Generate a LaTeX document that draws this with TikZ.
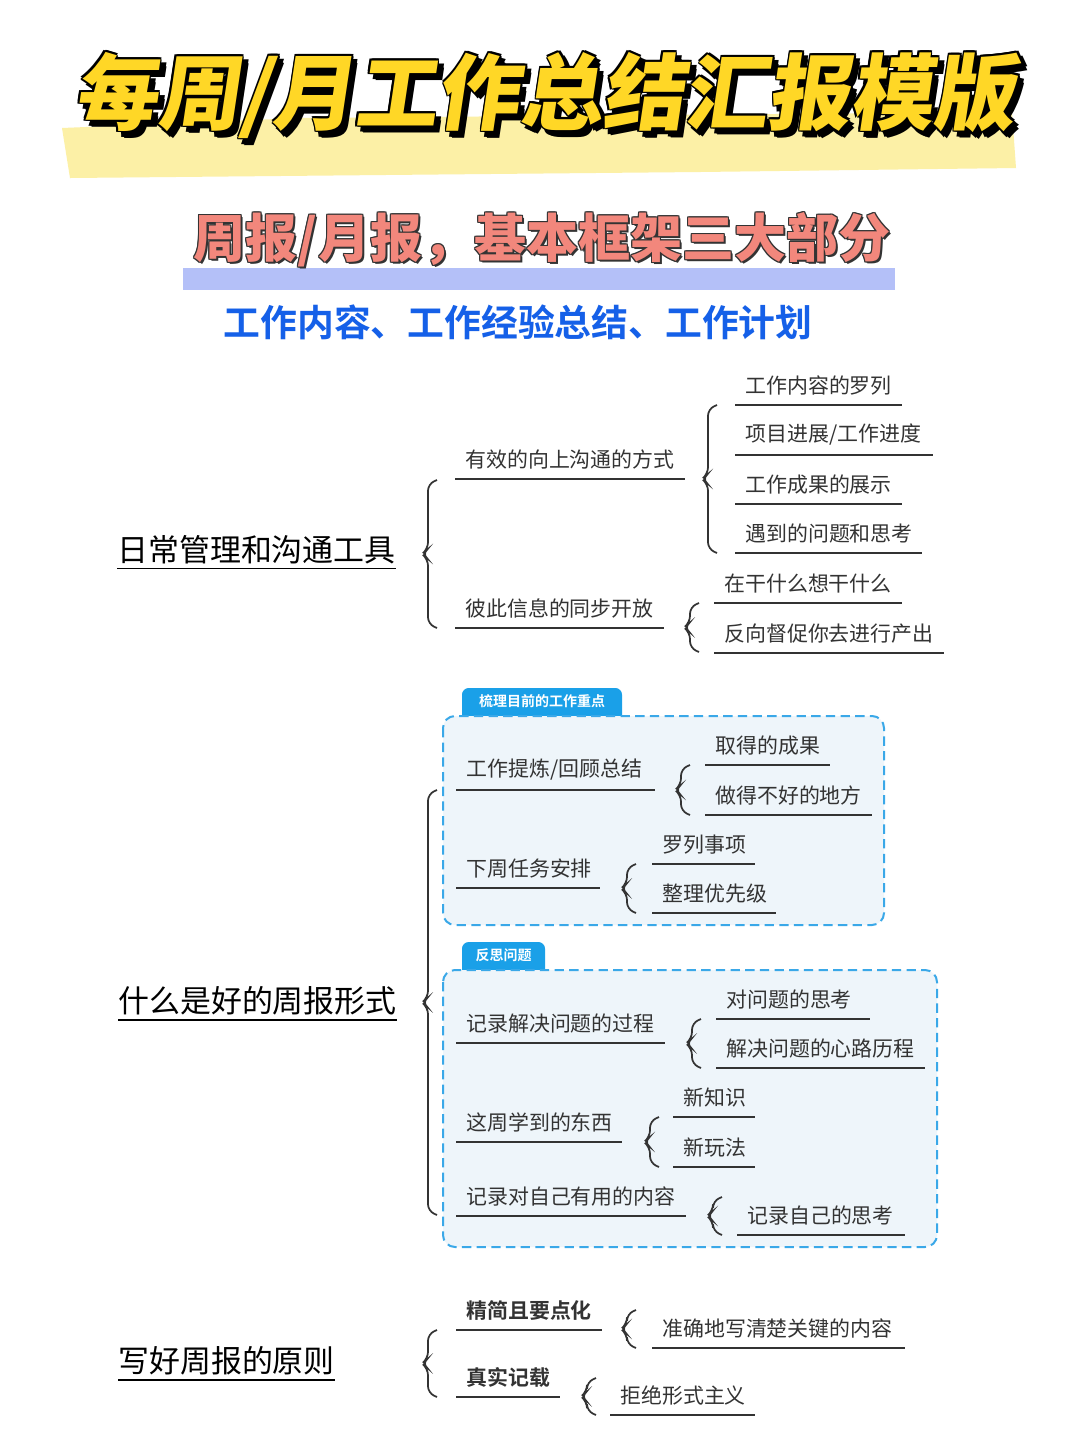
\documentclass[tikz,border=0pt]{standalone}
\usepackage{fontspec}
\setmainfont{Noto Sans CJK SC}
\newfontfamily\cjk{Noto Sans CJK SC}
\newfontfamily\cjkb{Noto Sans CJK SC Bold}
\newfontfamily\cjkbl[FakeSlant=0.15]{Noto Sans CJK SC Black}
\newfontfamily\cjkblu{Noto Sans CJK SC Black}
\definecolor{ink}{HTML}{333333}
\definecolor{boxblue}{HTML}{3AA8E8}
\definecolor{tabblue}{HTML}{1AA0E8}
\definecolor{boxfill}{HTML}{EEF5FA}
\definecolor{ttlyel}{HTML}{FFD726}
\definecolor{bandyel}{HTML}{FCF0A6}
\definecolor{salmon}{HTML}{F2877C}
\definecolor{barpur}{HTML}{B4C0F8}
\definecolor{txtblue}{HTML}{1560E8}
\tikzset{
  lbl/.style={anchor=south west,inner sep=0pt,font=\cjk\fontsize{15.7}{15.7}\selectfont,text=ink},
  lblb/.style={lbl,font=\cjkb\fontsize{15.7}{15.7}\selectfont},
  uline/.style={draw=ink,line width=1.6pt},
  brace/.style={draw=ink,line width=1.3pt,rounded corners=5pt},
  sect/.style={anchor=west,inner sep=0pt,font=\cjk\fontsize{23.2}{23.2}\selectfont,text=black},
  dbox/.style={draw=boxblue,dashed,dash pattern=on 7pt off 4pt,line width=1.5pt,fill=boxfill,rounded corners=9pt},
  tab/.style={fill=tabblue,rounded corners=5pt},
  tabtxt/.style={inner sep=0pt,text=white,font=\cjkb\fontsize{10.5}{10.5}\selectfont}
}
\newcommand{\itm}[5]{%
  \coordinate (#1L) at (#2,#4); \coordinate (#1R) at (#3,#4);
  \draw[uline] (#1L) -- (#1R);
  \node[lbl] (#1) at ([xshift=7.5pt,yshift=7pt]#1L) {#5};}
\newcommand{\itmb}[5]{%
  \coordinate (#1L) at (#2,#4); \coordinate (#1R) at (#3,#4);
  \draw[uline] (#1L) -- (#1R);
  \node[lblb] (#1) at ([xshift=7.5pt,yshift=7pt]#1L) {#5};}
\newcommand{\brc}[3]{%
  \draw[brace] (#1+9,#2) -- (#1,#2+4) -- (#1,{(#2+#3)/2-5}) -- (#1-6,{(#2+#3)/2}) -- (#1,{(#2+#3)/2+5}) -- (#1,#3-4) -- (#1+9,#3);}
\begin{document}
\begin{tikzpicture}[x=0.75pt,y=-0.75pt]
\useasboundingbox[fill=white] (0,0) rectangle (1080,1440);
% title
\fill[bandyel] (62,128) -- (300,118) -- (1012,112) -- (1016,168) -- (700,172) -- (70,178) -- cycle;
\foreach \dx/\dy in {4/4,5/6,6/7,3/6,6/3,-1.5/0,1.5/0,0/-1.5,0/1.5,-1.5/-1.5,1.5/1.5,-1.5/1.5,1.5/-1.5}
  \node[inner sep=0pt,text=black,font=\cjkbl\fontsize{62}{62}\selectfont] at (545+\dx,95+\dy) {每周/月工作总结汇报模版};
\node[inner sep=0pt,text=ttlyel,font=\cjkbl\fontsize{62}{62}\selectfont] (title) at (545,95) {每周/月工作总结汇报模版};
% subtitle
\fill[barpur] (183,268) rectangle (895,290);
\foreach \dx/\dy in {-1/0,1/0,0/-1,0/1,-1/-1,1/1,-1/1,1/-1,2/2}
  \node[inner sep=0pt,text=ink,font=\cjkblu\fontsize{39}{39}\selectfont] at (542+\dx,240+\dy) {周报/月报，基本框架三大部分};
\node[inner sep=0pt,text=salmon,font=\cjkblu\fontsize{39}{39}\selectfont] (sub) at (542,240) {周报/月报，基本框架三大部分};
\node[inner sep=0pt,text=txtblue,font=\cjkb\fontsize{27.6}{27.6}\selectfont] (sub2) at (518,322) {工作内容、工作经验总结、工作计划};
% section 1
\node[sect] (s1) at (117,550) {日常管理和沟通工具};
\draw[line width=1.3pt] ([yshift=-3pt]s1.south west) -- ([yshift=-3pt]s1.south east);
\brc{428}{480}{628}
\itm{a1}{455}{685}{479}{有效的向上沟通的方式}
\brc{708}{405}{553}
\itm{a11}{735}{902}{405}{工作内容的罗列}
\itm{a12}{735}{933}{455}{项目进展/工作进度}
\itm{a13}{735}{902}{504}{工作成果的展示}
\itm{a14}{735}{922}{553}{遇到的问题和思考}
\itm{a2}{455}{664}{628}{彼此信息的同步开放}
\brc{690}{603}{652}
\itm{a21}{714}{902}{603}{在干什么想干什么}
\itm{a22}{714}{944}{653}{反向督促你去进行产出}
% section 2
\node[sect] (s2) at (118,1001) {什么是好的周报形式};
\draw[line width=1.3pt] ([yshift=-3pt]s2.south west) -- ([yshift=-3pt]s2.south east);
\brc{428}{790}{1215}
\fill[tab] (462,688) rectangle (622,722);
\node[tabtxt] (t1) at (542,701) {梳理目前的工作重点};
\draw[dbox] (443,716) rectangle (884,925);
\itm{b1}{456}{655}{790}{工作提炼/回顾总结}
\brc{681}{765}{815}
\itm{b11}{705}{830}{765}{取得的成果}
\itm{b12}{705}{872}{815}{做得不好的地方}
\itm{b2}{456}{600}{888}{下周任务安排}
\brc{627}{864}{913}
\itm{b21}{652}{755}{864}{罗列事项}
\itm{b22}{652}{776}{913}{整理优先级}
\fill[tab] (462,942) rectangle (545,976);
\node[tabtxt] (t2) at (503.5,955) {反思问题};
\draw[dbox] (443,970) rectangle (937,1247);
\itm{c1}{456}{665}{1043}{记录解决问题的过程}
\brc{692}{1019}{1068}
\itm{c11}{716}{870}{1019}{对问题的思考}
\itm{c12}{716}{925}{1068}{解决问题的心路历程}
\itm{c2}{456}{622}{1142}{这周学到的东西}
\brc{650}{1117}{1167}
\itm{c21}{673}{755}{1117}{新知识}
\itm{c22}{673}{755}{1167}{新玩法}
\itm{c3}{456}{686}{1216}{记录对自己有用的内容}
\brc{713}{1197}{1235}
\itm{c31}{737}{905}{1235}{记录自己的思考}
% section 3
\node[sect] (s3) at (118,1361) {写好周报的原则};
\draw[line width=1.3pt] ([yshift=-3pt]s3.south west) -- ([yshift=-3pt]s3.south east);
\brc{428}{1330}{1397}
\itmb{d1}{456}{602}{1330}{精简且要点化}
\brc{627}{1310}{1348}
\itm{d11}{652}{905}{1348}{准确地写清楚关键的内容}
\itmb{d2}{456}{560}{1397}{真实记载}
\brc{587}{1378}{1415}
\itm{d21}{610}{755}{1415}{拒绝形式主义}
\end{tikzpicture}
\end{document}
